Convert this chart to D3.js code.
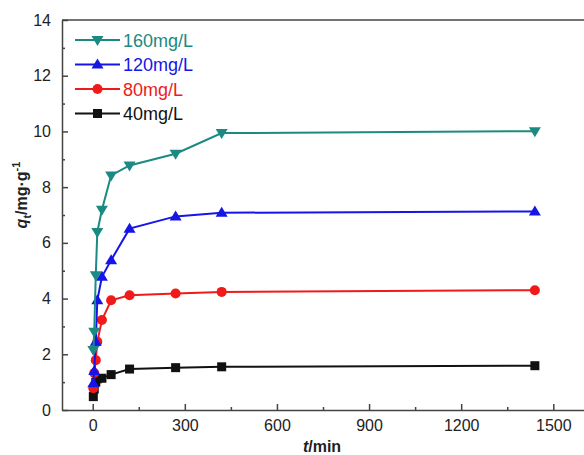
<!DOCTYPE html>
<html><head><meta charset="utf-8">
<script src="https://cdn.jsdelivr.net/npm/d3@7"></script>
<style>body{margin:0;background:#fff;} svg{display:block;}</style>
</head><body>
<svg id="c" width="584" height="455"></svg>
<script>
const times = [2, 5, 10, 15, 30, 60, 120, 270, 420, 1440];
const q160 = [2.15, 2.81, 4.84, 6.39, 7.19, 8.42, 8.78, 9.20, 9.94, 10.01];
const q120 = [0.96, 1.40, 2.45, 3.94, 4.78, 5.38, 6.51, 6.95, 7.08, 7.13];
const q80  = [0.78, 1.33, 1.79, 2.45, 3.23, 3.94, 4.12, 4.18, 4.24, 4.30];
const q40  = [0.48, 0.75, 1.00, 1.12, 1.14, 1.27, 1.47, 1.52, 1.55, 1.59];
const seriesNames = ["160mg/L", "120mg/L", "80mg/L", "40mg/L"];
const xTicks = [0, 300, 600, 900, 1200, 1500];
const yTicks = [0, 2, 4, 6, 8, 10, 12, 14];

const colors = ["#1a8a82", "#1515e8", "#f01a1a", "#111111"];
const symbols = ["down", "up", "circle", "square"];
const seriesVals = [q160, q120, q80, q40];

const svg = d3.select("#c");
const x = d3.scaleLinear().domain([-100, 1600]).range([62, 584]);
const y = d3.scaleLinear().domain([0, 14]).range([410, 20]);
const axisColor = "#444";
const font = "'Liberation Sans', Arial, sans-serif";

// frame top
svg.append("line").attr("x1", x(-100)).attr("x2", x(1600)).attr("y1", y(14)).attr("y2", y(14))
  .attr("stroke", axisColor).attr("stroke-width", 1.5);

// x axis
const gx = svg.append("g").attr("transform", `translate(0,${y(0)})`)
  .call(d3.axisBottom(x).tickValues(xTicks).tickFormat(d3.format("d")).tickSizeInner(-6).tickSizeOuter(0).tickPadding(10));
const gxm = svg.append("g").attr("transform", `translate(0,${y(0)})`)
  .call(d3.axisBottom(x).tickValues([150, 450, 750, 1050, 1350]).tickSizeInner(-3).tickSizeOuter(0).tickFormat(""));
gxm.select(".domain").remove();
// y axis
const gy = svg.append("g").attr("transform", `translate(${x(-100)},0)`)
  .call(d3.axisLeft(y).tickValues(yTicks).tickFormat(d3.format("d")).tickSizeInner(-6).tickSizeOuter(0).tickPadding(11));
const gym = svg.append("g").attr("transform", `translate(${x(-100)},0)`)
  .call(d3.axisLeft(y).tickValues([1, 3, 5, 7, 9, 11, 13]).tickSizeInner(-3).tickSizeOuter(0).tickFormat(""));
gym.select(".domain").remove();

[gx, gy, gxm, gym].forEach(g => {
  g.selectAll("path, line").attr("stroke", axisColor).attr("stroke-width", 1.5);
  g.selectAll("text").attr("font-family", font).attr("font-size", 16).attr("fill", "#222");
});

// lines and markers
const line = d3.line().x((d, i) => x(times[i])).y(d => y(d));
function marker(g, type, cx, cy, col) {
  if (type === "circle") g.append("circle").attr("cx", cx).attr("cy", cy).attr("r", 5).attr("fill", col);
  else if (type === "square") g.append("rect").attr("x", cx - 4.5).attr("y", cy - 4.5).attr("width", 9).attr("height", 9).attr("fill", col);
  else if (type === "up") g.append("path").attr("d", `M${cx},${cy - 6}L${cx + 6},${cy + 4}L${cx - 6},${cy + 4}Z`).attr("fill", col);
  else g.append("path").attr("d", `M${cx},${cy + 6}L${cx + 6},${cy - 4}L${cx - 6},${cy - 4}Z`).attr("fill", col);
}
for (let s = 3; s >= 0; s--) {
  const g = svg.append("g");
  g.append("path").attr("d", line(seriesVals[s])).attr("fill", "none").attr("stroke", colors[s]).attr("stroke-width", 2);
  seriesVals[s].forEach((v, i) => marker(g, symbols[s], x(times[i]), y(v), colors[s]));
}

// legend
const leg = svg.append("g");
seriesNames.forEach((n, i) => {
  const ly = 40 + i * 24.5;
  leg.append("line").attr("x1", 75).attr("x2", 120).attr("y1", ly).attr("y2", ly).attr("stroke", colors[i]).attr("stroke-width", 2);
  marker(leg, symbols[i], 97.5, ly, colors[i]);
  leg.append("text").attr("x", 123).attr("y", ly + 6.5).attr("font-family", font).attr("font-size", 18)
    .attr("fill", colors[i]).text(n);
});

// axis titles
const xt = svg.append("text").attr("x", 322).attr("y", 452).attr("text-anchor", "middle")
  .attr("font-family", font).attr("font-size", 16).attr("font-weight", "bold").attr("fill", "#222");
xt.append("tspan").attr("font-style", "italic").text("t");
xt.append("tspan").text("/min");

const yt = svg.append("text").attr("transform", "translate(27,195) rotate(-90)").attr("text-anchor", "middle")
  .attr("font-family", font).attr("font-size", 16).attr("font-weight", "bold").attr("fill", "#222");
yt.append("tspan").attr("font-style", "italic").text("q");
yt.append("tspan").attr("font-size", 11).attr("dy", 4).text("t");
yt.append("tspan").attr("dy", -4).text("/mg·g");
yt.append("tspan").attr("font-size", 11).attr("dy", -7).text("-1");
</script>
</body></html>
